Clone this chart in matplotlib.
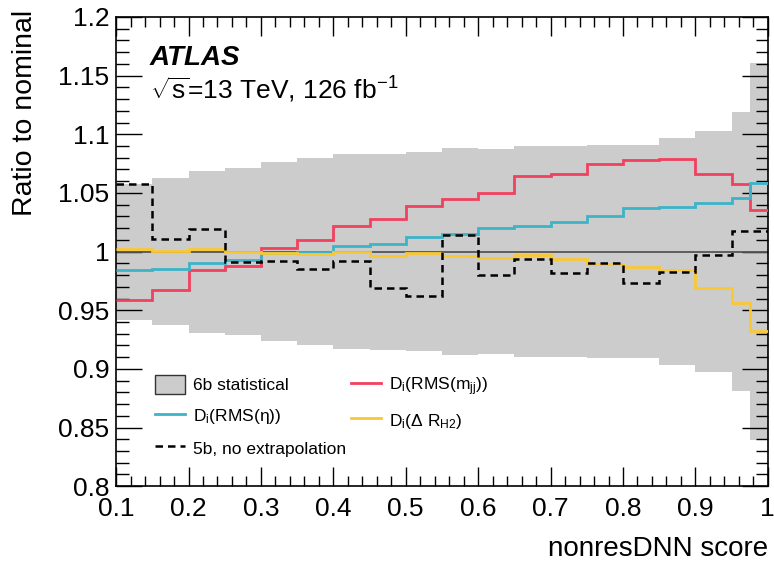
import numpy as np
import matplotlib
matplotlib.use("Agg")
import matplotlib.pyplot as plt
from matplotlib.patches import Patch
from matplotlib.lines import Line2D
from matplotlib.ticker import MultipleLocator

plt.rcParams['font.family'] = ['Liberation Sans', 'DejaVu Sans']
plt.rcParams['mathtext.fontset'] = 'custom'
plt.rcParams['mathtext.rm'] = 'Liberation Sans'
plt.rcParams['mathtext.it'] = 'Liberation Sans:italic'

# bin edges of the nonresDNN score
edges = [0.1, 0.15, 0.2, 0.25, 0.3, 0.35, 0.4, 0.45, 0.5, 0.55, 0.6,
         0.65, 0.7, 0.75, 0.8, 0.85, 0.9, 0.95, 0.975, 1.0]

# 6b statistical uncertainty (half width around 1)
stat_err = [0.058, 0.0625, 0.069, 0.0715, 0.0765, 0.080, 0.083, 0.0835, 0.0845, 0.088,
            0.0875, 0.090, 0.090, 0.0905, 0.091, 0.0965, 0.1025, 0.119, 0.1605]

rms_mjj = [0.959, 0.967, 0.984, 0.988, 1.003, 1.0095, 1.022, 1.028, 1.039, 1.0445,
           1.0497, 1.0647, 1.066, 1.075, 1.078, 1.079, 1.066, 1.058, 1.0355]

rms_eta = [0.984, 0.985, 0.990, 0.9925, 0.9985, 0.9995, 1.0045, 1.0065, 1.0127, 1.015,
           1.0198, 1.022, 1.0255, 1.0306, 1.037, 1.0377, 1.0417, 1.046, 1.0587]

dr_h2 = [1.0025, 1.0008, 1.0025, 0.9994, 0.9985, 0.998, 0.9994, 0.9962, 0.9985, 0.996,
         0.9943, 0.9968, 0.994, 0.9894, 0.9866, 0.9843, 0.9693, 0.956, 0.9326]

no_extrap_5b = [1.058, 1.011, 1.019, 0.991, 0.992, 0.985, 0.992, 0.969, 0.962, 1.014,
                0.980, 0.9934, 0.982, 0.990, 0.973, 0.983, 0.997, 1.0176, 1.0176]

c_red = '#f2405f'
c_cyan = '#3cb4c8'
c_yellow = '#fac832'
c_band = '#cccccc'

fig = plt.figure(figsize=(7.74, 5.66), dpi=100)
ax = fig.add_axes([0.150, 0.141, 0.842, 0.829])

err = np.array(stat_err)
ax.stairs(1 + err, edges, baseline=1 - err, fill=True, color=c_band, lw=0, zorder=1)
ax.axhline(1.0, color='#555555', lw=1.3, zorder=2)

ax.stairs(rms_mjj, edges, baseline=None, color=c_red, lw=2, zorder=3)
ax.stairs(rms_eta, edges, baseline=None, color=c_cyan, lw=2, zorder=3)
ax.stairs(dr_h2, edges, baseline=None, color=c_yellow, lw=2, zorder=3)
ax.stairs(no_extrap_5b, edges, baseline=None, color='black', lw=1.8,
          linestyle=(0, (3, 2)), zorder=4)

ax.set_xlim(0.1, 1.0)
ax.set_ylim(0.8, 1.2)
ax.xaxis.set_minor_locator(MultipleLocator(0.02))
ax.yaxis.set_minor_locator(MultipleLocator(0.01))
ax.set_xticks(np.arange(0.1, 1.01, 0.1))
ax.set_xticklabels(['0.1', '0.2', '0.3', '0.4', '0.5', '0.6', '0.7', '0.8', '0.9', '1'])
ax.set_yticks(np.arange(0.8, 1.201, 0.05))
ax.set_yticklabels(['0.8', '0.85', '0.9', '0.95', '1', '1.05', '1.1', '1.15', '1.2'])
ax.tick_params(which='both', direction='in', top=True, right=True, labelsize=19, width=1)
ax.tick_params(axis='x', which='major', length=14, pad=8)
ax.tick_params(axis='x', which='minor', length=7)
ax.tick_params(axis='y', which='major', length=19, pad=5)
ax.tick_params(axis='y', which='minor', length=9)
for s in ax.spines.values():
    s.set_linewidth(1.2)

fig.text(0.032, 0.982, 'Ratio to nominal', rotation=90, ha='center', va='top', fontsize=20.5)
fig.text(0.992, 0.018, 'nonresDNN score', ha='right', va='baseline', fontsize=20)

ax.text(0.052, 0.898, 'ATLAS', transform=ax.transAxes, fontsize=20,
        fontweight='bold', fontstyle='italic', va='baseline')
ax.text(0.052, 0.825, '$\\sqrt{\\mathrm{s}}$=13 TeV, 126 fb$^{-1}$', transform=ax.transAxes,
        fontsize=19, va='baseline')

handles = [
    Patch(facecolor=c_band, edgecolor='#333333', lw=1),
    Line2D([], [], color=c_cyan, lw=2),
    Line2D([], [], color='black', lw=1.8, linestyle=(0, (3, 2))),
    Line2D([], [], color=c_red, lw=2),
    Line2D([], [], color=c_yellow, lw=2),
]
labels = [
    '6b statistical',
    'D$_\\mathrm{i}$(RMS(η))',
    '5b, no extrapolation',
    'D$_\\mathrm{i}$(RMS(m$_\\mathrm{jj}$))',
    'D$_\\mathrm{i}$(Δ R$_\\mathrm{H2}$)',
]
ax.legend(handles, labels, ncol=2, loc='upper left', bbox_to_anchor=(0.035, 0.27),
          frameon=False, fontsize=12.5, handlelength=1.75, handleheight=1.3,
          labelspacing=0.7, columnspacing=0.3, handletextpad=0.45)

fig.savefig('out.png', dpi=100)
